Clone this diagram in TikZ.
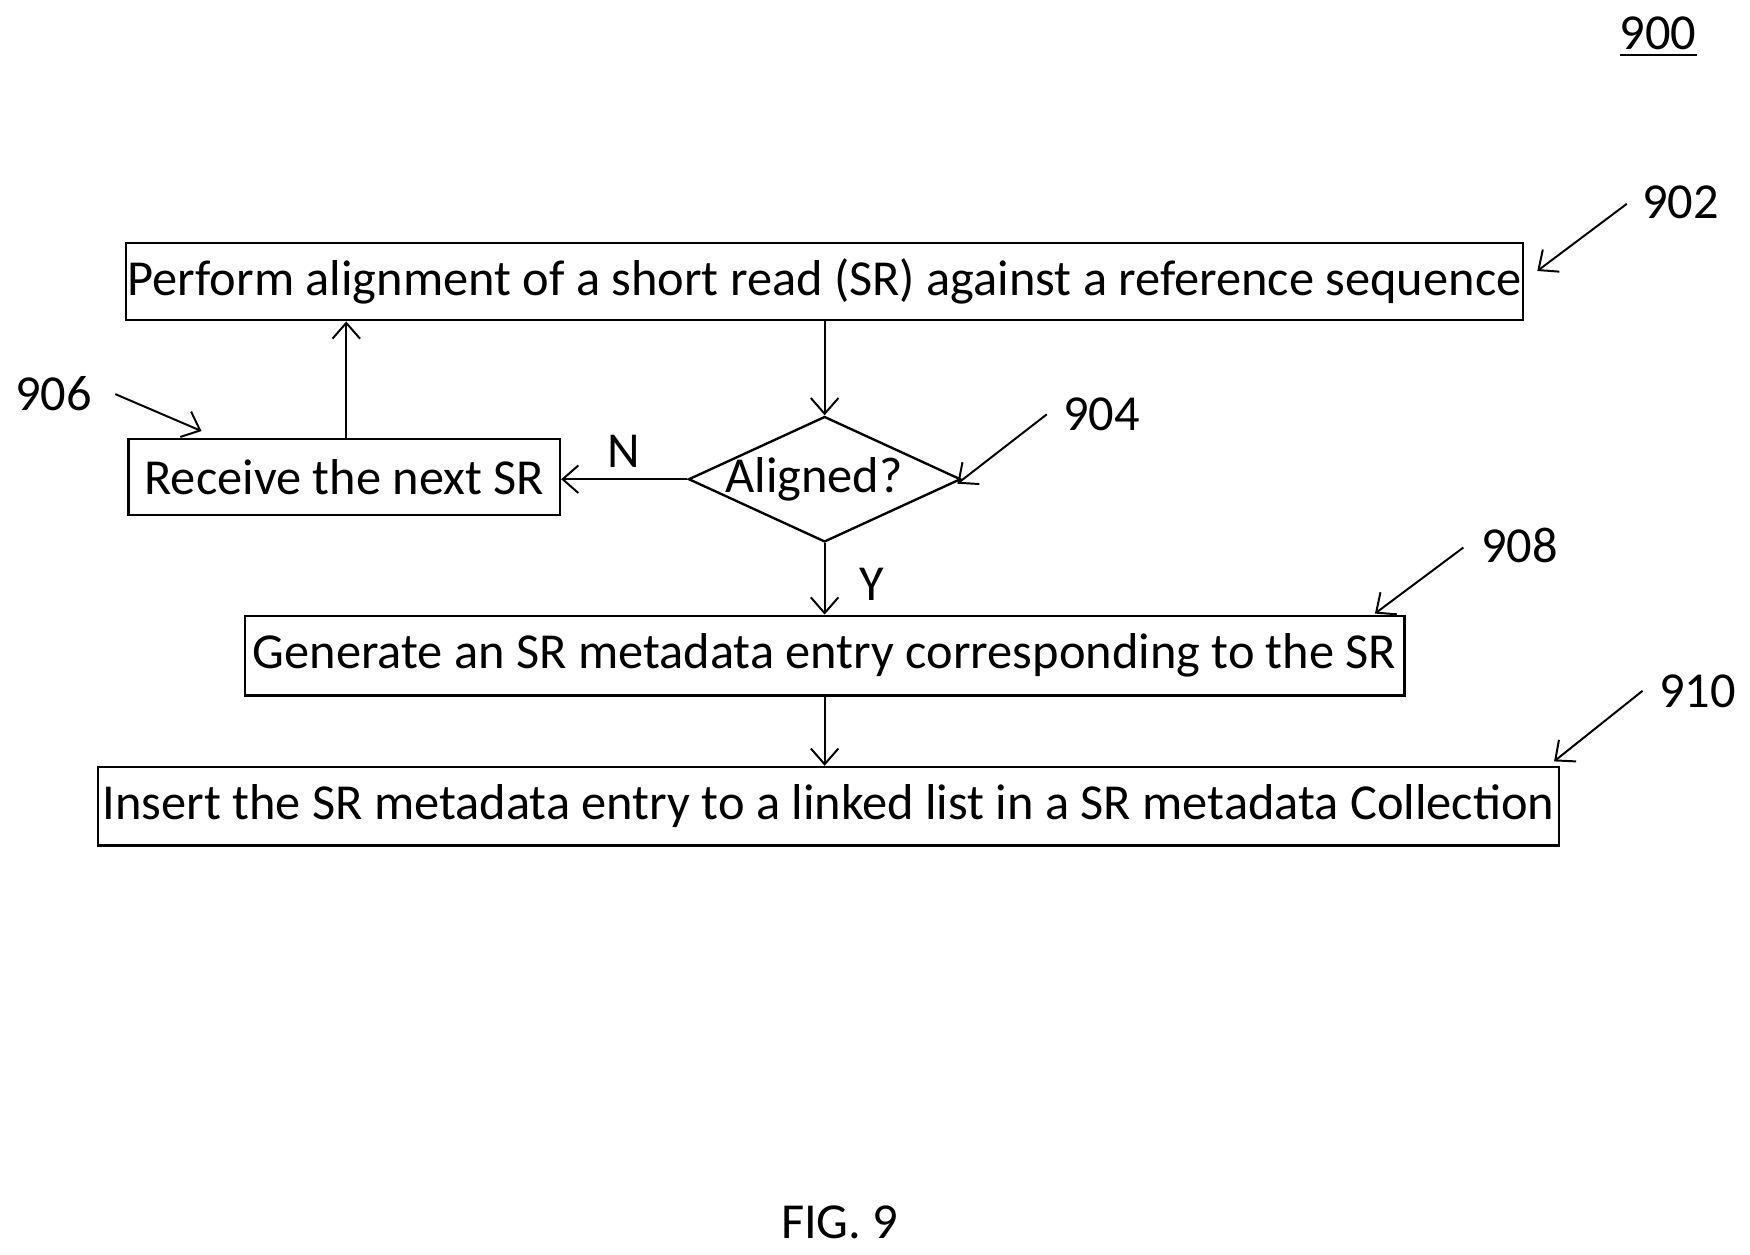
\documentclass[tikz,border=0pt]{standalone}
\usepackage{fontspec}
\setmainfont{Carlito}
\usetikzlibrary{shapes.geometric,arrows.meta}
\begin{document}
\begin{tikzpicture}[x=0.01cm,y=-0.01cm,
  box/.style={draw,line width=0.6pt,minimum height=0.69cm,inner sep=0pt},
  txt/.style={font=\fontsize{12.8}{14}\selectfont},
  arr/.style={-{Straight Barb[length=4pt,width=7pt]},line width=0.5pt},
  lead/.style={-{Straight Barb[length=4pt,width=7pt]},line width=0.5pt}]
\useasboundingbox (0,0) rectangle (1563,1120);
\node[box,txt,minimum width=12.47cm] (b902) at (736.5,251.5) {Perform alignment of a short read (SR) against a reference sequence};
\node[draw,line width=0.6pt,diamond,aspect=2.17,minimum width=2.43cm,minimum height=1.12cm,inner sep=0pt,txt] (d904) at (736.5,428) {};
\node[txt] at (727,428) {Aligned?};
\node[box,txt,minimum width=3.85cm,minimum height=0.68cm] (b906) at (307.5,426) {Receive the next SR};
\node[box,txt,minimum width=10.35cm,minimum height=0.71cm] (b908) at (736.5,585.5) {Generate an SR metadata entry corresponding to the SR};
\node[box,txt,minimum width=13.04cm,minimum height=0.70cm] (b910) at (740,720) {Insert the SR metadata entry to a linked list in a SR metadata Collection};
\draw[arr] (b902.south -| d904.north) -- (d904.north);
\draw[arr] (d904.west) -- (b906.east |- d904.west);
\draw[arr] ([xshift=0.5pt]b906.north) -- ([xshift=0.5pt]b906.north |- b902.south);
\draw[arr] (d904.south) -- (b908.north -| d904.south);
\draw[arr] (b908.south -| d904.south) -- (b910.north -| d904.south);
\node[txt] (n) at (557,403) {N};
\node[txt] (y) at (779,522) {Y};
\node[txt] (l900) at (1481,33) {\underline{900}};
\node[txt] (l902) at (1501,181) {902};
\node[txt] (l904) at (984,370) {904};
\node[txt] (l906) at (48,352) {906};
\node[txt] (l908) at (1357,487) {908};
\node[txt] (l910) at (1516,617) {910};
\node[txt] (fig) at (750,1092) {FIG. 9};
\coordinate (e902) at (1373,242);
\coordinate (e904) at (855,432);
\coordinate (e906) at (180,385);
\coordinate (e908) at (1228,548);
\coordinate (e910) at (1388,680);
\draw[lead] (1453,182) -- (e902);
\draw[lead] (935,370) -- (e904);
\draw[lead] (103,352) -- (e906);
\draw[lead] (1307,489) -- (e908);
\draw[lead] (1467,617) -- (e910);
\end{tikzpicture}
\end{document}
